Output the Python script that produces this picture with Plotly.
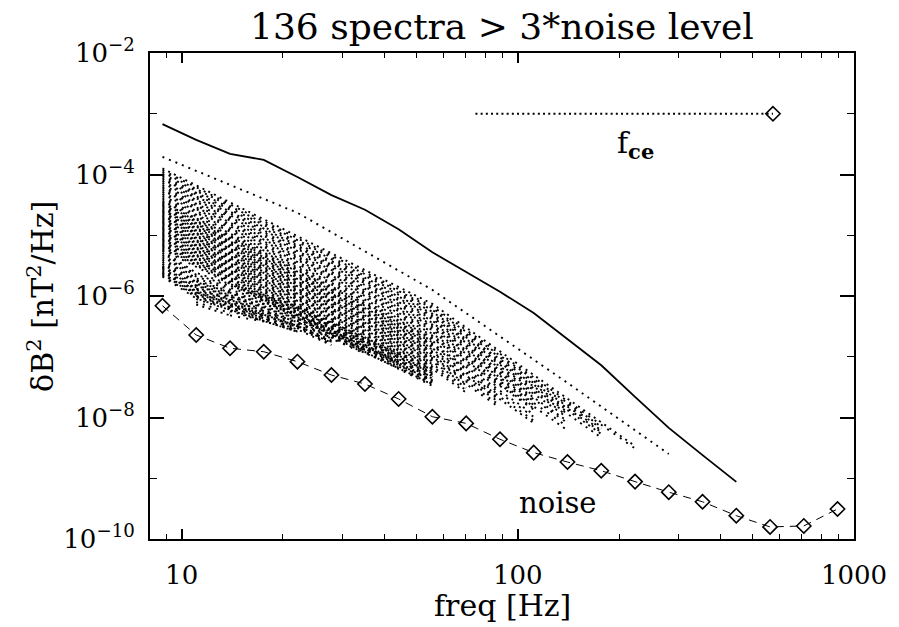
import plotly.graph_objects as go

# ---------------- data ----------------
# common frequency grid [Hz]
freq = [8.77, 11.05, 13.93, 17.55, 22.1, 27.9, 35.1, 44.2, 55.7, 70.2, 88.5,
        111.5, 140.5, 177.1, 223.2, 281.2, 354.4, 446.6, 562.7, 709.1, 893.3]

# noise level [nT^2/Hz]
noise = [6.9e-7, 2.28e-7, 1.38e-7, 1.21e-7, 8.3e-8, 5.0e-8, 3.56e-8, 2.02e-8,
         1.03e-8, 8.0e-9, 4.38e-9, 2.64e-9, 1.85e-9, 1.33e-9, 8.8e-10, 5.9e-10,
         4.1e-10, 2.42e-10, 1.58e-10, 1.64e-10, 3.12e-10]

# solid (strongest) spectrum, log10(dB^2) on the first 18 grid points
solid_log = [-3.17, -3.43, -3.66, -3.76, -4.04, -4.34, -4.58, -4.90, -5.28,
             -5.61, -5.93, -6.28, -6.71, -7.14, -7.66, -8.17, -8.62, -9.06]

# dotted spectra (only the parts above 3*noise):
# (grid indices of the vertices, log10(dB^2) at those vertices)
spectra_upper = [
    ([0, 4, 8, 12, 15], [-3.71, -4.63, -5.90, -7.43, -8.60]),
    ([0, 8, 14], [-3.90, -6.13, -8.47]),
    ([0, 8, 14], [-3.93, -6.17, -8.51]),
    ([0, 8, 13], [-3.96, -6.20, -8.15]),
    ([0, 8, 13], [-3.99, -6.23, -8.18]),
    ([0, 8, 13], [-4.02, -6.26, -8.21]),
    ([0, 8, 13], [-4.05, -6.29, -8.24]),
    ([0, 8, 13], [-4.08, -6.32, -8.27]),
    ([0, 8, 12], [-4.11, -6.35, -7.91]),
    ([0, 8, 13], [-4.14, -6.38, -8.33]),
    ([0, 8, 12], [-4.17, -6.41, -7.97]),
    ([0, 8, 12], [-4.20, -6.44, -8.00]),
    ([0, 8, 11], [-4.23, -6.47, -7.64]),
    ([0, 8, 12], [-4.26, -6.50, -8.06]),
    ([0, 8, 12], [-4.29, -6.53, -8.09]),
    ([0, 8, 11], [-4.32, -6.56, -7.73]),
    ([0, 8, 12], [-4.35, -6.59, -8.15]),
    ([0, 8, 11], [-4.38, -6.62, -7.79]),
    ([0, 8, 12], [-4.41, -6.65, -8.21]),
    ([0, 8, 11], [-4.44, -6.68, -7.85]),
]

spectra_middle = [
    ([0, 8, 11], [-4.46, -6.70, -7.87]),
    ([0, 8], [-4.48, -6.72]),
    ([0, 8, 10], [-4.50, -6.74, -7.52]),
    ([0, 8], [-4.52, -6.76]),
    ([0, 8, 11], [-4.54, -6.78, -7.95]),
    ([0, 8, 9], [-4.56, -6.80, -7.19]),
    ([0, 8, 11], [-4.58, -6.82, -7.99]),
    ([0, 8], [-4.60, -6.84]),
    ([0, 8, 10], [-4.62, -6.86, -7.64]),
    ([0, 8, 11], [-4.64, -6.88, -8.05]),
    ([0, 8], [-4.66, -6.90]),
    ([0, 8, 11], [-4.68, -6.92, -8.09]),
    ([0, 8, 10], [-4.70, -6.94, -7.72]),
    ([0, 8], [-4.72, -6.96]),
    ([0, 8, 10], [-4.74, -6.98, -7.76]),
    ([0, 8, 9], [-4.76, -7.00, -7.39]),
    ([0, 8, 10], [-4.78, -7.02, -7.80]),
    ([0, 8], [-4.80, -7.04]),
    ([0, 8, 10], [-4.82, -7.06, -7.84]),
    ([0, 8, 9], [-4.84, -7.08, -7.47]),
    ([0, 8], [-4.86, -7.10]),
    ([0, 8, 9], [-4.88, -7.12, -7.51]),
    ([0, 8], [-4.90, -7.14]),
    ([0, 8, 9], [-4.92, -7.16, -7.55]),
    ([0, 8], [-4.94, -7.18]),
    ([0, 8, 9], [-4.96, -7.20, -7.59]),
    ([0, 8], [-4.98, -7.22]),
    ([0, 8], [-5.00, -7.24]),
    ([0, 8], [-5.02, -7.26]),
    ([0, 8], [-5.04, -7.28]),
    ([0, 8], [-5.06, -7.30]),
    ([0, 8], [-5.08, -7.32]),
    ([0, 8], [-5.10, -7.34]),
    ([0, 8], [-5.12, -7.36]),
    ([0, 8], [-5.14, -7.38]),
    ([0, 8], [-5.16, -7.40]),
    ([0, 8], [-5.18, -7.42]),
    ([0, 8], [-5.20, -7.44]),
    ([0, 8], [-5.22, -7.46]),
    ([0, 8], [-5.24, -7.48]),
]

spectra_lower = [
    ([0, 1, 4, 8], [-5.26, -5.62, -6.17, -7.21]),
    ([0, 1, 4, 7], [-5.29, -5.65, -6.20, -6.98]),
    ([0, 1, 4, 8], [-5.32, -5.68, -6.23, -7.27]),
    ([0, 1, 4, 6], [-5.35, -5.71, -6.26, -6.78]),
    ([0, 1, 4, 8], [-5.38, -5.74, -6.29, -7.33]),
    ([0, 1, 4, 7], [-5.41, -5.77, -6.32, -7.10]),
    ([0, 1, 4, 8], [-5.44, -5.80, -6.35, -7.39]),
    ([0, 1, 4, 6], [-5.47, -5.83, -6.38, -6.90]),
    ([0, 1, 4, 8], [-5.50, -5.86, -6.41, -7.45]),
    ([0, 1, 4, 7], [-5.52, -5.88, -6.43, -7.19]),
    ([0, 1, 4, 6], [-5.54, -5.90, -6.45, -6.95]),
    ([0, 1, 4, 5], [-5.56, -5.92, -6.47, -6.73]),
    ([0, 1, 4, 5], [-5.58, -5.94, -6.49, -6.75]),
    ([0, 1, 4, 5], [-5.60, -5.96, -6.51, -6.77]),
    ([0, 1, 4, 5], [-5.62, -5.98, -6.53, -6.79]),
    ([0, 1, 4, 5], [-5.64, -6.00, -6.55, -6.81]),
    ([0, 1, 4], [-5.66, -6.02, -6.57]),
    ([0, 1, 4], [-5.68, -6.04, -6.59]),
    ([1, 4, 7], [-5.76, -6.31, -7.09]),
    ([1, 4, 6], [-5.82, -6.37, -6.89]),
    ([1, 4, 5], [-5.88, -6.43, -6.69]),
    ([1, 4, 5], [-5.94, -6.49, -6.75]),
    ([1, 4], [-6.00, -6.55]),
    ([1, 4], [-6.05, -6.59]),
    ([1, 2], [-6.10, -6.28]),
    ([1, 2], [-6.14, -6.32]),
    ([2, 4, 5], [-6.15, -6.50, -6.76]),
    ([2, 4], [-6.25, -6.58]),
    ([2, 3], [-6.32, -6.42]),
]

# electron cyclotron frequency marker
fce_line_freq = [74.8, 574.0]
fce_level = 1e-3

title_text = "136 spectra > 3*noise level"
x_tick_vals = [10, 100, 1000]
x_tick_text = ["10", "100", "1000"]
x_minor_vals = [9, 20, 30, 40, 50, 60, 70, 80, 90, 200, 300, 400, 500, 600, 700, 800, 900]
y_tick_vals = [1e-10, 1e-8, 1e-6, 1e-4, 1e-2]
y_tick_text = ["10<sup>−10</sup>", "10<sup>−8</sup>", "10<sup>−6</sup>", "10<sup>−4</sup>", "10<sup>−2</sup>"]
y_minor_vals = [1e-9, 1e-7, 1e-5, 1e-3]

FONT = "DejaVu Serif"
# dotted-line patterns, cycled so the dots of neighbouring spectra do not line up
DOT_PATTERNS = ["2px,5px", "2px,4.4px", "2px,5.7px", "2px,4.8px", "2px,6.2px", "2px,5.3px"]

# ---------------- figure ----------------
fig = go.Figure()

all_spectra = spectra_upper + spectra_middle + spectra_lower
for n, (idx, logs) in enumerate(all_spectra):
    fig.add_trace(go.Scatter(
        x=[freq[i] for i in idx], y=[10 ** v for v in logs],
        mode="lines",
        line=dict(color="black", width=1.9,
                  dash="2px,5px" if n == 0 else DOT_PATTERNS[n % len(DOT_PATTERNS)]),
        hoverinfo="skip", showlegend=False))

fig.add_trace(go.Scatter(
    x=freq[:len(solid_log)], y=[10 ** v for v in solid_log],
    mode="lines", line=dict(color="black", width=1.8), showlegend=False))

fig.add_trace(go.Scatter(
    x=freq, y=noise, mode="lines+markers",
    line=dict(color="black", width=1, dash="8px,6px"),
    marker=dict(symbol="diamond-open", size=11, color="black", line=dict(width=1.6)),
    showlegend=False))

fig.add_trace(go.Scatter(
    x=fce_line_freq, y=[fce_level, fce_level], mode="lines",
    line=dict(color="black", width=2, dash="2px,3.2px"), showlegend=False))
fig.add_trace(go.Scatter(
    x=[fce_line_freq[1]], y=[fce_level], mode="markers",
    marker=dict(symbol="diamond-open", size=11, color="black", line=dict(width=1.6)),
    showlegend=False))

axis_common = dict(
    type="log", showgrid=False, zeroline=False, showline=True, linewidth=2,
    linecolor="black", mirror="allticks", ticks="inside", tickcolor="black",
    tickwidth=1.5, tickfont=dict(family=FONT, size=26, color="black"),
)

fig.update_xaxes(**axis_common, range=[0.9059, 3.0], tickvals=x_tick_vals,
                 ticktext=x_tick_text, ticklen=10, ticklabelstandoff=12,
                 minor=dict(tickvals=x_minor_vals, ticks="inside", ticklen=5,
                            tickwidth=1.3, tickcolor="black", showgrid=False))
fig.update_yaxes(**axis_common, range=[-10, -2], tickvals=y_tick_vals,
                 ticktext=y_tick_text, ticklen=14, ticklabelstandoff=8,
                 minor=dict(tickvals=y_minor_vals, ticks="inside", ticklen=7,
                            tickwidth=1.3, tickcolor="black", showgrid=False))

annotations = [
    dict(text=title_text, xref="paper", yref="paper", x=0.5, y=1.054,
         xanchor="center", yanchor="middle", showarrow=False,
         font=dict(family=FONT, size=36, color="black")),
    dict(text="freq [Hz]", xref="paper", yref="paper", x=0.5, y=-0.137,
         xanchor="center", yanchor="middle", showarrow=False,
         font=dict(family=FONT, size=30, color="black")),
    dict(text="δB<sup>2</sup> [nT<sup>2</sup>/Hz]", xref="paper", yref="paper",
         x=-0.155, y=0.5, xanchor="center", yanchor="middle", textangle=-90,
         showarrow=False, font=dict(family=FONT, size=30, color="black")),
    dict(text="f<sub><b>ce</b></sub>", xref="x", yref="y", x=2.35, y=-3.5,
         xanchor="center", yanchor="middle", showarrow=False,
         font=dict(family=FONT, size=30, color="black")),
    dict(text="noise", xref="x", yref="y", x=2.118, y=-9.41,
         xanchor="center", yanchor="middle", showarrow=False,
         font=dict(family=FONT, size=29, color="black")),
]

fig.update_layout(
    width=899, height=627, paper_bgcolor="white", plot_bgcolor="white",
    margin=dict(l=150, r=37, t=53, b=88), annotations=annotations,
    font=dict(family=FONT, color="black"),
)

fig.write_html("out.html")
